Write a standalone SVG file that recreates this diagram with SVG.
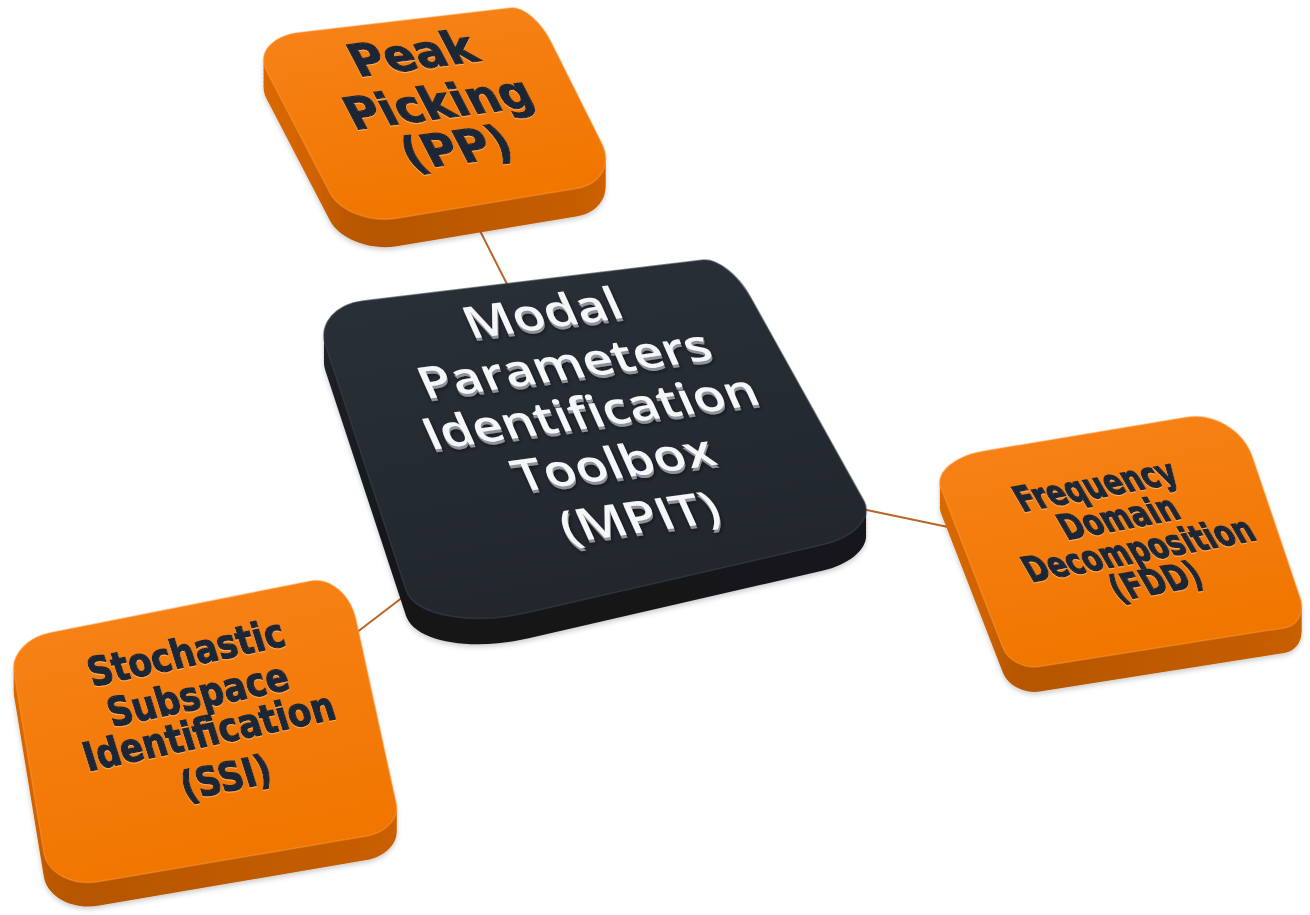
<svg xmlns="http://www.w3.org/2000/svg" width="1310" height="915" viewBox="0 0 1310 915">
  <defs>
    <style>
      .orange-face { fill: url(#orangeFace); stroke: #ff9d45; stroke-opacity: 0.45; stroke-width: 1.5; }
      .orange-side { fill: url(#orangeSide); }
      .dark-face { fill: url(#darkFace); stroke: #3a414b; stroke-opacity: 0.6; stroke-width: 1.5; }
      .dark-side { fill: url(#darkSide); }
      .label-dark { font-family: "DejaVu Sans", Verdana, sans-serif; font-weight: bold; fill: #1b2634; stroke: #1b2634; stroke-width: 1.2; stroke-linejoin: round; text-anchor: middle; }
      .label-light { font-family: "Open Sans", "Liberation Sans", sans-serif; font-weight: 600; fill: #f5f6f7; text-anchor: middle; }
      .link { stroke: #b8652a; stroke-width: 2; fill: none; stroke-linecap: round; }
    </style>

    <linearGradient id="orangeFace" x1="0" y1="0" x2="0.3" y2="1">
      <stop offset="0" stop-color="#f7831a"/>
      <stop offset="1" stop-color="#f17600"/>
    </linearGradient>
    <linearGradient id="orangeSide" x1="0" y1="0" x2="0" y2="1">
      <stop offset="0" stop-color="#e06c00"/>
      <stop offset="0.75" stop-color="#cf6200"/>
      <stop offset="1" stop-color="#b65600"/>
    </linearGradient>
    <linearGradient id="darkFace" x1="0" y1="0" x2="0.3" y2="1">
      <stop offset="0" stop-color="#2a3038"/>
      <stop offset="1" stop-color="#22272e"/>
    </linearGradient>
    <linearGradient id="darkSide" x1="0" y1="0" x2="0" y2="1">
      <stop offset="0" stop-color="#20242a"/>
      <stop offset="1" stop-color="#121417"/>
    </linearGradient>

    <filter id="drop" x="-10%" y="-10%" width="120%" height="130%">
      <feDropShadow dx="0" dy="2.5" stdDeviation="2.5" flood-color="#000" flood-opacity="0.2"/>
    </filter>
    <filter id="embossDark" x="-5%" y="-10%" width="110%" height="130%">
      <feOffset in="SourceAlpha" dx="0" dy="1.4" result="off"/>
      <feFlood flood-color="#ffbb77" flood-opacity="0.8" result="col"/>
      <feComposite in="col" in2="off" operator="in" result="hl"/>
      <feMerge>
        <feMergeNode in="hl"/>
        <feMergeNode in="SourceGraphic"/>
      </feMerge>
    </filter>
    <filter id="embossLight" x="-5%" y="-10%" width="115%" height="140%">
      <feOffset in="SourceAlpha" dx="1" dy="2.5" result="o1"/>
      <feFlood flood-color="#8d939b" result="greyCol"/>
      <feComposite in="greyCol" in2="o1" operator="in" result="grey"/>
      <feGaussianBlur in="SourceAlpha" stdDeviation="2" result="blur"/>
      <feOffset in="blur" dx="1.5" dy="4" result="o2"/>
      <feFlood flood-color="#000" flood-opacity="0.6" result="shCol"/>
      <feComposite in="shCol" in2="o2" operator="in" result="sh"/>
      <feMerge>
        <feMergeNode in="sh"/>
        <feMergeNode in="grey"/>
        <feMergeNode in="SourceGraphic"/>
      </feMerge>
    </filter>

    <!-- top faces of the tiles, seen in perspective -->
    <path id="pp-shape" d="M299.4,32.6 L510.8,7.9 C522.8,6.5 540.8,21.4 550.6,41.1 L601.8,143.6 C612.1,164.3 600.6,184.5 576.2,188.5 L396.7,218.2 C369.6,222.7 339.5,211.1 329.9,192.6 L266.3,70.3 C257.2,52.8 272.1,35.8 299.4,32.6 Z"/>
    <path id="mpit-shape" d="M362.6,301 L703.2,260 C716.8,258.4 737.9,274.7 749.9,296.3 L863.7,500.7 C873.1,517.5 854.4,537.4 822.2,544.8 L528.7,612.3 C469.7,625.9 414.5,615.6 405.9,589.5 L325.5,345 C318.6,324.1 335.3,304.3 362.6,301 Z"/>
    <path id="fdd-shape" d="M984.3,451 L1186.7,417.2 C1213.8,412.7 1243.2,430.3 1252.1,456.3 L1300,597.5 C1305,612.1 1297.9,625.8 1284.3,627.9 L1039.7,666.6 C1024.5,669 1007.9,660.5 1002.9,647.7 L940.9,488 C934.9,472.6 954.4,456 984.3,451 Z"/>
    <path id="ssi-shape" d="M50.2,632.8 L309.7,581.2 C329.7,577.2 350.4,594.2 355.8,618.9 L396.2,803.6 C399.4,818.1 386,832.7 366.5,836 L99.3,881.6 C72.2,886.2 47.2,873.1 43.8,852.5 L14,671.6 C11.3,654.8 27.5,637.3 50.2,632.8 Z"/>
  </defs>

  <rect width="1310" height="915" fill="#ffffff"/>

  <!-- connectors from the hub to each method -->
  <g id="connectors">
    <line class="link" x1="473" y1="217" x2="511" y2="292"/>
    <line class="link" x1="850" y1="506.5" x2="960" y2="529.5"/>
    <line class="link" x1="420" y1="584" x2="335" y2="649"/>
  </g>

  <!-- Peak Picking -->
  <g id="node-pp">
    <g class="orange-side" filter="url(#drop)">
      <use href="#pp-shape" y="28"/>
      <use href="#pp-shape" y="24"/>
      <use href="#pp-shape" y="20"/>
      <use href="#pp-shape" y="16"/>
      <use href="#pp-shape" y="12"/>
      <use href="#pp-shape" y="8"/>
      <use href="#pp-shape" y="4"/>
    </g>
    <use href="#pp-shape" class="orange-face"/>
    <g class="label-dark" font-size="45" filter="url(#embossDark)">
      <text transform="matrix(0.9933,-0.1300,0.50,0.96,420,69)">Peak</text>
      <text transform="matrix(0.9933,-0.1300,0.50,0.96,446,118)">Picking</text>
      <text transform="matrix(0.9933,-0.1300,0.50,0.96,464,163)">(PP)</text>
    </g>
  </g>

  <!-- central toolbox -->
  <g id="node-mpit">
    <g class="dark-side" filter="url(#drop)">
      <use href="#mpit-shape" y="26"/>
      <use href="#mpit-shape" y="22"/>
      <use href="#mpit-shape" y="18"/>
      <use href="#mpit-shape" y="14"/>
      <use href="#mpit-shape" y="10"/>
      <use href="#mpit-shape" y="6"/>
      <use href="#mpit-shape" y="3"/>
    </g>
    <use href="#mpit-shape" class="dark-face"/>
    <g class="label-light" font-size="52" filter="url(#embossLight)">
      <text transform="matrix(0.9906,-0.137,0.37,0.82,549,328)">Modal</text>
      <text transform="matrix(0.9906,-0.137,0.37,0.82,571,379)">Parameters</text>
      <text transform="matrix(0.9906,-0.137,0.37,0.82,597,427)">Identification</text>
      <text transform="matrix(0.9906,-0.137,0.37,0.82,620,478)">Toolbox</text>
      <text transform="matrix(0.9906,-0.137,0.37,0.82,646,532)">(MPIT)</text>
    </g>
  </g>

  <!-- Frequency Domain Decomposition -->
  <g id="node-fdd">
    <g class="orange-side" filter="url(#drop)">
      <use href="#fdd-shape" y="25"/>
      <use href="#fdd-shape" y="21"/>
      <use href="#fdd-shape" y="17"/>
      <use href="#fdd-shape" y="13"/>
      <use href="#fdd-shape" y="9"/>
      <use href="#fdd-shape" y="5"/>
      <use href="#fdd-shape" y="2"/>
    </g>
    <use href="#fdd-shape" class="orange-face"/>
    <g class="label-dark" font-size="27.5" filter="url(#embossDark)">
      <text transform="matrix(0.984,-0.185,0.70,1.20,1102,497)">Frequency</text>
      <text transform="matrix(0.984,-0.185,0.70,1.20,1125,529)">Domain</text>
      <text transform="matrix(0.984,-0.185,0.70,1.20,1145,561)">Decomposition</text>
      <text transform="matrix(0.984,-0.185,0.70,1.20,1162,593)">(FDD)</text>
    </g>
  </g>

  <!-- Stochastic Subspace Identification -->
  <g id="node-ssi">
    <g class="orange-side" filter="url(#drop)">
      <use href="#ssi-shape" y="24"/>
      <use href="#ssi-shape" y="20"/>
      <use href="#ssi-shape" y="16"/>
      <use href="#ssi-shape" y="12"/>
      <use href="#ssi-shape" y="8"/>
      <use href="#ssi-shape" y="4"/>
    </g>
    <use href="#ssi-shape" class="orange-face"/>
    <g class="label-dark" font-size="34" filter="url(#embossDark)">
      <text transform="matrix(0.978,-0.207,0.354,1.126,190,666)">Stochastic</text>
      <text transform="matrix(0.978,-0.207,0.354,1.126,202,708)">Subspace</text>
      <text transform="matrix(0.978,-0.207,0.354,1.126,213,745)">Identification</text>
      <text transform="matrix(0.978,-0.207,0.354,1.126,230,791)">(SSI)</text>
    </g>
  </g>
</svg>
